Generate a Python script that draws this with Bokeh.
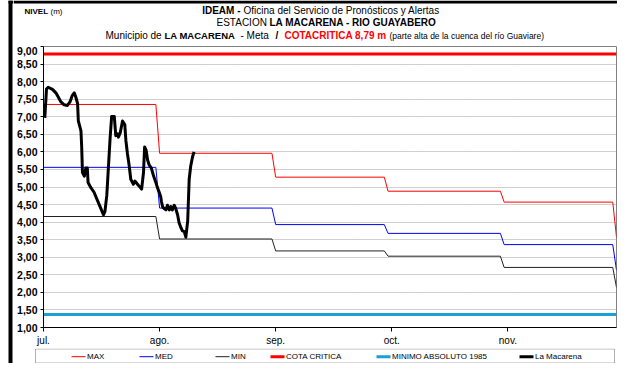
from bokeh.plotting import figure
from bokeh.layouts import row, column
from bokeh.models import FixedTicker, Label, BoxAnnotation, Range1d
from bokeh.embed import file_html
from bokeh.resources import INLINE

# ---------------- data ----------------
month_labels = ["jul.", "ago.", "sep.", "oct.", "nov."]
month_tick_days = [0, 31, 62, 93, 124]
month_start_days = [0, 31, 62, 92, 123, 153]   # 1 jul ... 1 dic

max_level = [7.35, 5.96, 5.28, 4.88, 4.57, 3.57]
med_level = [5.56, 4.40, 3.93, 3.68, 3.36, 2.63]
min_level = [4.16, 3.52, 3.18, 3.03, 2.71, 2.14]
cota_critica = 8.79
minimo_absoluto = 1.37

y_tick_values = [1.0, 1.5, 2.0, 2.5, 3.0, 3.5, 4.0, 4.5, 5.0, 5.5, 6.0, 6.5, 7.0, 7.5, 8.0, 8.5, 9.0]
y_tick_labels = ["1,00", "1,50", "2,00", "2,50", "3,00", "3,50", "4,00", "4,50", "5,00",
                 "5,50", "6,00", "6,50", "7,00", "7,50", "8,00", "8,50", "9,00"]

mac_day = [0.35, 0.8, 1.25, 2.4, 3.3, 3.9, 4.6, 5.5, 6.4, 7.1, 7.7, 8.2, 8.6, 9.1, 9.3, 10.0,
           10.2, 10.4, 10.9, 11.3, 11.7, 11.9, 12.6, 13.5, 14.4, 15.3, 16.0, 16.4, 16.9, 17.3,
           17.8, 18.2, 18.9, 19.3, 19.8, 20.0, 20.5, 21.1, 21.7, 22.0, 22.4, 22.9, 23.3, 24.0,
           24.4, 25.1, 25.8, 26.2, 26.7, 27.0, 27.4, 27.8, 28.2, 28.8, 29.4, 30.0, 30.4, 30.9,
           31.3, 31.5, 31.8, 32.2, 32.7, 33.1, 33.6, 34.0, 34.4, 34.9, 35.3, 35.8, 36.2, 36.7,
           37.1, 37.6, 38.0, 38.5, 38.9, 39.3, 39.8, 40.2]
mac_level = [6.97, 7.79, 7.84, 7.78, 7.68, 7.57, 7.43, 7.34, 7.32, 7.43, 7.61, 7.68, 7.57, 7.38,
             6.88, 6.60, 6.14, 5.41, 5.31, 5.54, 5.54, 5.13, 4.99, 4.85, 4.62, 4.39, 4.21, 4.30,
             4.76, 5.50, 6.42, 7.01, 7.01, 6.46, 6.51, 6.42, 6.55, 6.88, 6.78, 6.32, 5.96, 5.59,
             5.22, 5.08, 5.17, 5.08, 4.99, 4.94, 5.41, 6.14, 6.05, 5.77, 5.63, 5.54, 5.31, 5.13,
             4.99, 4.85, 4.72, 4.58, 4.44, 4.39, 4.35, 4.48, 4.35, 4.44, 4.35, 4.48, 4.39, 4.21,
             3.98, 3.84, 3.75, 3.73, 3.57, 4.03, 5.22, 5.59, 5.86, 6.00]

legend_labels = ["MAX", "MED", "MIN", "COTA CRITICA", "MINIMO ABSOLUTO 1985", "La Macarena"]
legend_colors = ["#ff0000", "#0000ff", "#222222", "#ff0000", "#1a9fd6", "#000000"]
legend_widths = [1, 1, 1, 3, 3, 3]

# ---------------- layout (canvas px) ----------------
W, H = 617, 363
STRIP = 13                       # left strip holding the black chart border
CW = W - STRIP                   # width of the right column
HEAD_H = 46                      # header (titles) height = frame top
FL, FW, FH = 43, 573, 282        # frame left (canvas), width, height
MAIN_H = FH + 20
LEG_H = H - HEAD_H - MAIN_H
X0, X1 = month_start_days[0], month_start_days[-1]
Y0, Y1 = y_tick_values[0], y_tick_values[-1]
FONT = "Liberation Sans"


def cx(rx):   # reference x -> canvas x
    return rx - 3


def cy(ry):   # reference y -> canvas y
    return (ry - 6) * H / 373.0


def step_series(levels):
    xs, ys = [], []
    for i in range(len(month_start_days) - 1):
        xs += [month_start_days[i], month_start_days[i + 1] - 1]
        ys += [levels[i], levels[i]]
    xs.append(month_start_days[-1])
    ys.append(levels[-1])
    return xs, ys


def blank(width, height, x0, x1, y0, y1):
    f = figure(width=width, height=height, output_backend="svg", toolbar_location=None,
               x_range=Range1d(x0, x1), y_range=Range1d(y1, y0),
               x_axis_type=None, y_axis_type=None, min_border=0, frame_align=False)
    f.outline_line_color = None
    f.background_fill_color = "white"
    f.border_fill_color = "white"
    return f


# ---------------- left strip (black border) ----------------
strip = blank(STRIP, H, 0, STRIP, 0, H)
strip.add_layout(BoxAnnotation(left=8, right=12, top=0, bottom=H, fill_color="black",
                               fill_alpha=1, line_alpha=0))
strip.add_layout(BoxAnnotation(left=8, right=STRIP, top=0, bottom=3, fill_color="black",
                               fill_alpha=1, line_alpha=0))

# ---------------- header ----------------
head = blank(CW, HEAD_H, STRIP, W, 0, HEAD_H)
head.add_layout(BoxAnnotation(left=STRIP, right=W, top=0, bottom=3, fill_color="black",
                              fill_alpha=1, line_alpha=0))


def add_text(fig, txt, x, y, size="10px", bold=False, color="black", align="left"):
    fig.add_layout(Label(x=x, y=y, text=txt, text_font=FONT, text_font_size=size,
                         text_font_style="bold" if bold else "normal", text_color=color,
                         text_align=align, text_baseline="middle"))


add_text(head, "NIVEL", cx(27), cy(17), size="8px", bold=True)
add_text(head, "(m)", cx(53), cy(17), size="8px")
add_text(head, "IDEAM -", cx(243), cy(16), bold=True, align="right")
add_text(head, "Oficina del Servicio de Pronósticos y Alertas", cx(246), cy(16))
add_text(head, "ESTACION", cx(219), cy(29))
add_text(head, "LA MACARENA - RIO GUAYABERO", cx(272), cy(29), bold=True, size="10px")
add_text(head, "Municipio de", cx(108), cy(42))
add_text(head, "LA MACARENA", cx(167), cy(42), bold=True, size="9.5px")
add_text(head, "- Meta", cx(243), cy(42))
add_text(head, "/", cx(278), cy(42), bold=True)
add_text(head, "COTACRITICA 8,79 m", cx(287), cy(42), bold=True, color="#ff0000")
add_text(head, "(parte alta de la cuenca del río Guaviare)", cx(392), cy(42), size="8.5px")

# ---------------- main chart ----------------
p = figure(width=CW, height=MAIN_H, output_backend="svg", toolbar_location=None,
           x_range=Range1d(X0, X1), y_range=Range1d(Y0, Y1), frame_align=False,
           min_border_left=FL - STRIP, min_border_right=CW - (FL - STRIP) - FW,
           min_border_top=0, min_border_bottom=MAIN_H - FH)
p.background_fill_color = "white"
p.border_fill_color = "white"
p.outline_line_color = "#808080"
p.outline_line_width = 1

p.yaxis.ticker = FixedTicker(ticks=y_tick_values)
p.yaxis.major_label_overrides = dict(zip(y_tick_values, y_tick_labels))
p.yaxis.major_label_text_font = FONT
p.yaxis.major_label_text_font_style = "bold"
p.yaxis.major_label_text_font_size = "10.5px"
p.yaxis.major_label_text_color = "black"
p.yaxis.major_tick_out = 3
p.yaxis.major_tick_in = 0
p.yaxis.minor_tick_out = 0
p.yaxis.minor_tick_in = 0
p.yaxis.major_label_standoff = 3
p.yaxis.axis_line_color = "black"
p.yaxis.major_tick_line_color = "black"

p.xaxis.ticker = FixedTicker(ticks=month_tick_days)
p.xaxis.major_label_overrides = dict(zip(month_tick_days, month_labels))
p.xaxis.major_label_text_font = FONT
p.xaxis.major_label_text_font_size = "10px"
p.xaxis.major_label_text_color = "black"
p.xaxis.major_tick_out = 4
p.xaxis.major_tick_in = 0
p.xaxis.minor_tick_out = 0
p.xaxis.minor_tick_in = 0
p.xaxis.major_label_standoff = 3
p.xaxis.axis_line_color = "black"
p.xaxis.major_tick_line_color = "black"

p.xgrid.grid_line_color = None
p.ygrid.ticker = FixedTicker(ticks=y_tick_values)
p.ygrid.grid_line_color = "#a0a0a0"
p.ygrid.grid_line_dash = "1 1"
p.ygrid.grid_line_width = 1

mx, my = step_series(max_level)
p.line(mx, my, line_color=legend_colors[0], line_width=legend_widths[0])
ex, ey = step_series(med_level)
p.line(ex, ey, line_color=legend_colors[1], line_width=legend_widths[1])
nx, ny = step_series(min_level)
p.line(nx, ny, line_color=legend_colors[2], line_width=legend_widths[2])
p.line([X0, X1], [cota_critica, cota_critica], line_color=legend_colors[3],
       line_width=legend_widths[3])
p.line([X0, X1], [minimo_absoluto, minimo_absoluto], line_color=legend_colors[4],
       line_width=legend_widths[4])
p.line(mac_day, mac_level, line_color=legend_colors[5], line_width=legend_widths[5],
       line_join="round")

# ---------------- legend strip ----------------
leg_top = HEAD_H + MAIN_H
leg = blank(CW, LEG_H, STRIP, W, leg_top, H)
leg.add_layout(BoxAnnotation(left=cx(38), right=cx(617), top=leg_top + 0.5, bottom=H - 0.5,
                             fill_alpha=0, line_color="black", line_width=1))
item_x = [74, 142, 218, 273, 379, 522]      # reference x where each legend sample starts
ly = cy(372)
for lab, col, lw, rx in zip(legend_labels, legend_colors, legend_widths, item_x):
    leg.segment(x0=[cx(rx)], y0=[ly], x1=[cx(rx) + 14], y1=[ly], line_color=col, line_width=lw)
    add_text(leg, lab, cx(rx) + 15.5, ly, size="8px")

layout = row(strip, column(head, p, leg, spacing=0), spacing=0)
open("out.html", "w").write(file_html(layout, INLINE))
